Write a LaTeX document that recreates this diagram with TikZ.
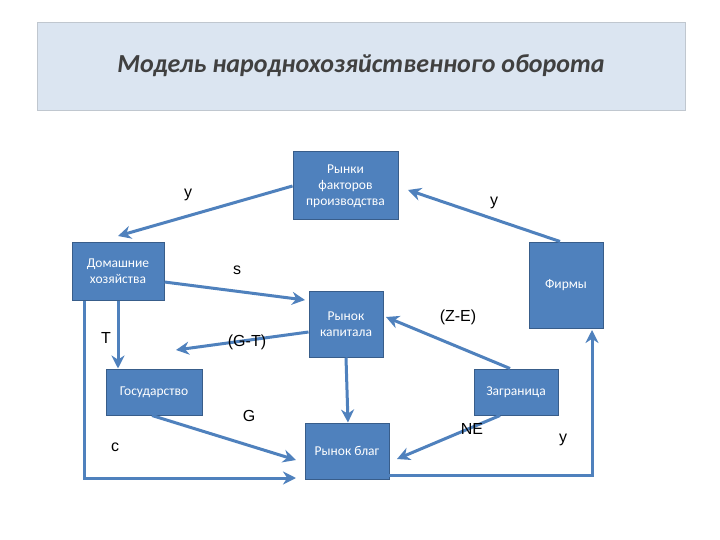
\documentclass[tikz,border=0pt]{standalone}
\usepackage{fontspec}
\setmainfont{Carlito}
\newfontfamily\lab{Liberation Sans}
\usetikzlibrary{arrows.meta}
\definecolor{bx}{HTML}{4F81BD}
\definecolor{bxd}{HTML}{385D8A}
\definecolor{tb}{HTML}{DBE5F1}
\begin{document}
\begin{tikzpicture}[x=1pt,y=-1pt,
  box/.style={fill=bx,draw=bxd,line width=1pt,text=white,font=\fontsize{13.5}{16}\selectfont,align=center,inner sep=0pt},
  arr/.style={draw=bx,line width=3pt,-{Stealth[length=13pt,width=13pt]}},
  lbl/.style={font=\lab\fontsize{16}{18}\selectfont}]
\useasboundingbox (0,0) rectangle (720,540);
\fill[white] (0,0) rectangle (720,540);
\node[fill=tb,draw=tb!70!gray,minimum width=648pt,minimum height=88pt,inner sep=0pt,font=\fontsize{26}{30}\selectfont\bfseries\itshape,text=black!75] (title) at (361,66) {Модель народнохозяйственного оборота};
\node[box,minimum width=105pt,minimum height=68pt] (rf) at (345.5,186) {Рынки\\факторов\\производства};
\node[box,minimum width=92pt,minimum height=58pt] (dh) at (118,271) {Домашние\\хозяйства};
\node[box,minimum width=74pt,minimum height=86pt] (fi) at (566,285) {Фирмы};
\node[box,minimum width=74pt,minimum height=66pt] (rk) at (346,324) {Рынок\\капитала};
\node[box,minimum width=96pt,minimum height=46pt] (gos) at (154,392) {Государство};
\node[box,minimum width=84pt,minimum height=46pt] (zag) at (516,392) {Заграница};
\node[box,minimum width=84pt,minimum height=56pt] (rb) at (347,451) {Рынок благ};
\coordinate (a1) at (118,236);
\draw[arr] (rf.west) -- (a1);
\node[lbl] (ly1) at (188,195) {y};
\coordinate (a2) at (408,190);
\draw[arr] ([xshift=-6pt]fi.north) -- (a2);
\node[lbl] (ly2) at (494,203) {y};
\coordinate (a3) at (305,300);
\draw[arr] (dh.east) ++(0,11) coordinate (s3) (s3) -- (a3);
\node[lbl] (ls) at (237,270) {s};
\coordinate (a4) at (176,350);
\draw[arr] ([yshift=-8pt]rk.west) -- (a4);
\node[lbl] (lgt) at (247,342) {(G-T)};
\coordinate (a5) at (386,317);
\draw[arr] ([xshift=-6pt]zag.north) -- (a5);
\node[lbl] (lze) at (458,317) {(Z-E)};
\draw[arr] (dh.south) -- (gos.north -| dh.south);
\node[lbl] (lT) at (106,338) {T};
\draw[arr] (rk.south) -- ([xshift=1pt]rb.north);
\coordinate (a8) at (296,460);
\draw[arr] ([xshift=-2pt]gos.south) -- (a8);
\node[lbl] (lG) at (249,416) {G};
\coordinate (a9) at (397,459);
\draw[arr] ([xshift=-16pt]zag.south) -- (a9);
\node[lbl] (lNE) at (472,429) {NE};
\coordinate (c1) at (84,478);
\coordinate (c2) at (296,478);
\draw[arr] (dh.south -| c1) -- (c1) -- (c2);
\node[lbl] (lc) at (115,447) {c};
\coordinate (e0) at (389,475);
\coordinate (d1) at (592,475);
\coordinate (d2) at (592,330);
\draw[arr] (e0) -- (d1) -- (d2);
\node[lbl] (ly3) at (563,440) {y};
\end{tikzpicture}
\end{document}
